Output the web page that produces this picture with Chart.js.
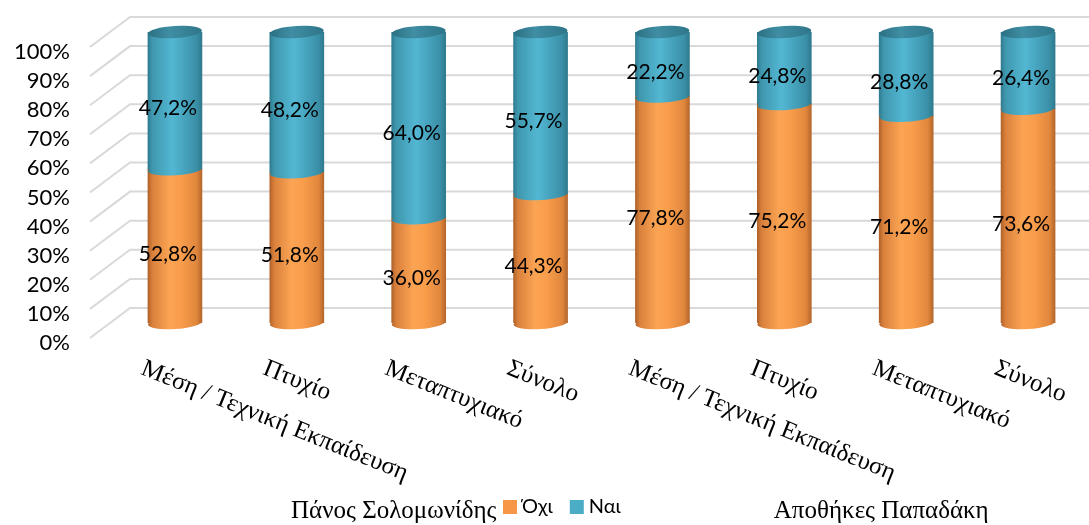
<!DOCTYPE html>
<html>
<head>
<meta charset="utf-8">
<script src="https://cdn.jsdelivr.net/npm/chart.js@4.4.1/dist/chart.umd.min.js"></script>
<style>
  html, body { margin: 0; padding: 0; background: #fff; overflow: hidden; }
  #wrap { width: 1089px; height: 525px; }
</style>
</head>
<body>
<div id="wrap"><canvas id="chart"></canvas></div>
<script>
var categories = ["Μέση / Τεχνική Εκπαίδευση", "Πτυχίο", "Μεταπτυχιακό", "Σύνολο",
                  "Μέση / Τεχνική Εκπαίδευση", "Πτυχίο", "Μεταπτυχιακό", "Σύνολο"];
var groups = ["Πάνος Σολομωνίδης", "Αποθήκες Παπαδάκη"];
var ochi = [52.8, 51.8, 36.0, 44.3, 77.8, 75.2, 71.2, 73.6];
var nai = [47.2, 48.2, 64.0, 55.7, 22.2, 24.8, 28.8, 26.4];
var yTicks = [0, 10, 20, 30, 40, 50, 60, 70, 80, 90, 100];

var orangeStops = [[0, "#b0622a"], [0.08, "#d9803c"], [0.4, "#fba453"], [0.62, "#f99d4b"], [0.9, "#e0873d"], [1, "#b5662c"]];
var blueStops = [[0, "#2f7b90"], [0.08, "#3f97ae"], [0.45, "#53b7d3"], [0.9, "#3a8fa7"], [1, "#2f7a8e"]];
var topStops = [[0, "#2c6f82"], [0.4, "#3f8ea4"], [1, "#2f7589"]];
var BAR_W = 54;

function cylGrad(ctx, cx, stops) {
  var g = ctx.createLinearGradient(cx - BAR_W / 2, 0, cx + BAR_W / 2, 0);
  stops.forEach(function (s) { g.addColorStop(s[0], s[1]); });
  return g;
}

function barFill(stops, flat) {
  return function (c) {
    var sx = c.chart.scales && c.chart.scales.x;
    if (!sx || !c.chart.chartArea) return flat;
    return cylGrad(c.chart.ctx, sx.getPixelForValue(c.dataIndex), stops);
  };
}

// back wall grid lines + perspective diagonals
var gridPlugin = {
  id: "grid3d",
  beforeDatasetsDraw: function (chart) {
    var ctx = chart.ctx, y = chart.scales.y;
    ctx.save();
    ctx.strokeStyle = "#d9d9d9";
    ctx.lineWidth = 2;
    yTicks.forEach(function (v) {
      var py = y.getPixelForValue(v);
      ctx.beginPath();
      ctx.moveTo(90, py + 15);
      ctx.lineTo(130, py - 15);
      ctx.lineTo(chart.width, py - 15);
      ctx.stroke();
    });
    ctx.restore();
  }
};

// round caps of the cylinders
var cylPlugin = {
  id: "cylinders",
  afterDatasetsDraw: function (chart) {
    var ctx = chart.ctx;
    var mo = chart.getDatasetMeta(0), mn = chart.getDatasetMeta(1);
    var ry = 6, rot = -0.06;
    ctx.save();
    mo.data.forEach(function (bar, i) {
      var rx = bar.width / 2, up = mn.data[i];
      ctx.fillStyle = cylGrad(ctx, bar.x, orangeStops);
      ctx.beginPath(); ctx.ellipse(bar.x, bar.base, rx, ry, rot, 0, Math.PI * 2); ctx.fill();
      ctx.fillStyle = cylGrad(ctx, bar.x, blueStops);
      ctx.beginPath(); ctx.ellipse(bar.x, bar.y, rx, ry, rot, 0, Math.PI * 2); ctx.fill();
      ctx.fillStyle = cylGrad(ctx, up.x, topStops);
      ctx.beginPath(); ctx.ellipse(up.x, up.y, rx, ry, rot, 0, Math.PI * 2); ctx.fill();
    });
    // value labels
    ctx.font = "21px Lato";
    ctx.fillStyle = "#000";
    ctx.textAlign = "center";
    ctx.textBaseline = "middle";
    [mo, mn].forEach(function (meta, d) {
      var vals = d === 0 ? ochi : nai;
      meta.data.forEach(function (bar, i) {
        var t = vals[i].toFixed(1).replace(".", ",") + "%";
        ctx.fillText(t, bar.x - 7, (bar.y + bar.base) / 2 + 8);
      });
    });
    ctx.restore();
  }
};

// rotated category labels, group names and legend
var labelPlugin = {
  id: "labels",
  afterDraw: function (chart) {
    var ctx = chart.ctx, x = chart.scales.x;
    ctx.save();
    ctx.fillStyle = "#000";
    ctx.font = "25px 'Liberation Serif'";
    ctx.textAlign = "left";
    ctx.textBaseline = "top";
    categories.forEach(function (c, i) {
      var px = x.getPixelForValue(i);
      ctx.save();
      ctx.translate(px - 28, 356);
      ctx.rotate(22 * Math.PI / 180);
      ctx.fillText(c, 0, 0);
      ctx.restore();
    });
    // group names
    ctx.font = "25px 'Liberation Serif'";
    ctx.textAlign = "center";
    ctx.textBaseline = "alphabetic";
    groups.forEach(function (g, k) {
      var a = x.getPixelForValue(k * 4), b = x.getPixelForValue(k * 4 + 3);
      ctx.fillText(g, (a + b) / 2 + 36, 518);
    });
    // legend
    ctx.font = "20px Lato";
    ctx.textAlign = "left";
    ctx.textBaseline = "middle";
    var lx = 503;
    chart.data.datasets.forEach(function (ds, d) {
      ctx.fillStyle = d === 0 ? "#f79646" : "#4bacc6";
      ctx.fillRect(lx, 500, 14, 14);
      ctx.fillStyle = "#000";
      ctx.fillText(ds.label, lx + 19, 507);
      lx += 19 + ctx.measureText(ds.label).width + 17;
    });
    ctx.restore();
  }
};

new Chart(document.getElementById("chart"), {
  type: "bar",
  data: {
    labels: categories,
    datasets: [
      { label: "Όχι", data: ochi, backgroundColor: barFill(orangeStops, "#f79646"), barThickness: BAR_W },
      { label: "Ναι", data: nai, backgroundColor: barFill(blueStops, "#4bacc6"), barThickness: BAR_W }
    ]
  },
  options: {
    responsive: true,
    maintainAspectRatio: false,
    animation: false,
    layout: { padding: { top: 32, left: 0, right: 0, bottom: 0 } },
    plugins: {
      legend: { display: false },
      tooltip: { enabled: false },
      title: { display: false }
    },
    scales: {
      x: {
        stacked: true,
        ticks: { display: false },
        grid: { display: false, drawTicks: false },
        border: { display: false },
        afterFit: function (s) { s.height = 202; s.paddingLeft = 0; s.paddingRight = 0; }
      },
      y: {
        stacked: true,
        min: 0,
        max: 100,
        ticks: {
          stepSize: 10,
          autoSkip: false,
          padding: 44,
          labelOffset: 20,
          color: "#000",
          font: { family: "Lato", size: 22 },
          callback: function (v) { return v + "%"; }
        },
        grid: { display: false, drawTicks: false },
        border: { display: false },
        afterFit: function (s) { s.width = 114; s.paddingTop = 0; s.paddingBottom = 0; }
      }
    }
  },
  plugins: [gridPlugin, cylPlugin, labelPlugin]
});
</script>
</body>
</html>
